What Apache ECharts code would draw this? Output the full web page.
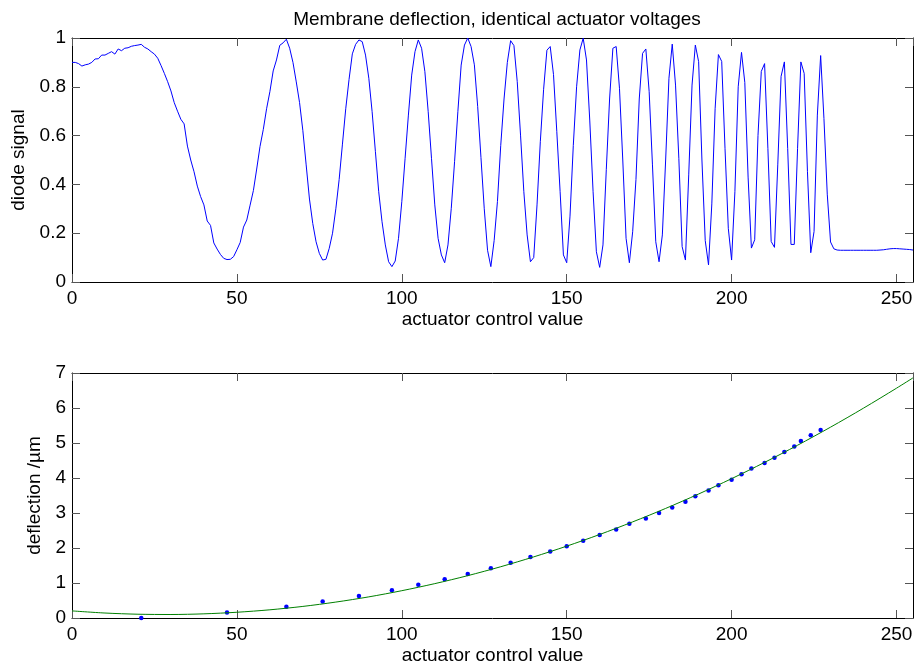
<!DOCTYPE html>
<html>
<head>
<meta charset="utf-8">
<script src="https://cdn.jsdelivr.net/npm/echarts@6/dist/echarts.min.js"></script>
<style>
html,body{margin:0;padding:0;background:#fff;}
#chart{width:917px;height:671px;}
</style>
</head>
<body>
<div id="chart"></div>
<script>
// Top panel: diode signal for actuator control values 0..255 (one sample per value)
const diodeSignal = [
0.90,0.90,0.895,0.885,0.89,0.893,0.90,0.914,0.915,0.93,
0.93,0.937,0.944,0.934,0.955,0.948,0.958,0.96,0.966,0.969,
0.971,0.974,0.962,0.955,0.944,0.934,0.917,0.887,0.855,0.821,
0.783,0.735,0.70,0.667,0.648,0.557,0.50,0.452,0.393,0.35,
0.316,0.25,0.232,0.16,0.135,0.113,0.097,0.092,0.093,0.104,
0.132,0.162,0.225,0.254,0.315,0.375,0.463,0.555,0.625,0.71,
0.78,0.865,0.91,0.97,0.98,0.995,0.958,0.90,0.82,0.735,
0.62,0.48,0.34,0.24,0.165,0.117,0.09,0.093,0.138,0.20,
0.30,0.42,0.565,0.71,0.83,0.935,0.974,0.992,0.985,0.93,
0.835,0.698,0.534,0.37,0.247,0.152,0.083,0.063,0.086,0.179,
0.329,0.507,0.684,0.848,0.944,0.992,0.958,0.862,0.698,0.507,
0.316,0.179,0.111,0.079,0.152,0.302,0.493,0.698,0.889,0.971,
1.0,0.965,0.89,0.72,0.51,0.30,0.13,0.063,0.17,0.33,
0.56,0.75,0.90,0.989,0.969,0.821,0.602,0.37,0.193,0.083,
0.10,0.316,0.575,0.79,0.95,0.965,0.85,0.616,0.37,0.111,
0.079,0.27,0.56,0.80,0.951,0.999,0.91,0.66,0.37,0.124,
0.06,0.152,0.46,0.75,0.958,0.965,0.794,0.50,0.179,0.079,
0.206,0.42,0.75,0.937,0.955,0.78,0.48,0.165,0.083,0.193,
0.50,0.835,0.975,0.807,0.507,0.145,0.09,0.439,0.807,0.971,
0.903,0.50,0.17,0.07,0.32,0.71,0.932,0.904,0.548,0.22,
0.09,0.37,0.80,0.941,0.818,0.43,0.139,0.173,0.60,0.863,
0.895,0.548,0.166,0.142,0.48,0.843,0.902,0.548,0.154,0.154,
0.548,0.902,0.855,0.452,0.12,0.207,0.684,0.928,0.67,0.36,
0.164,0.136,0.131,0.130,0.130,0.130,0.130,0.130,0.130,0.130,
0.130,0.130,0.130,0.130,0.130,0.131,0.132,0.134,0.136,0.137,
0.137,0.136,0.135,0.134,0.133,0.131
];

// Bottom panel: measured deflection at fringe extrema
const extremaControl = [21,47,65,76,87,97,105,113,120,127,133,139,145,150,155,160,165,169,174,178,182,186,189,193,196,200,203,206,210,213,216,219,221,224,227];
const extremaDeflection = [0,0.16,0.32,0.47,0.63,0.79,0.95,1.11,1.26,1.42,1.58,1.74,1.90,2.05,2.21,2.37,2.53,2.69,2.84,3.00,3.16,3.32,3.48,3.64,3.79,3.95,4.11,4.27,4.43,4.58,4.74,4.90,5.06,5.22,5.37];

// Bottom panel: fitted curve
const fitControl = [0,10,20,30,40,50,60,70,80,90,100,110,120,130,140,150,160,170,180,190,200,210,220,230,240,250,255];
const fitDeflection = [0.203,0.142,0.108,0.100,0.119,0.164,0.234,0.331,0.455,0.604,0.780,0.982,1.21,1.465,1.746,2.053,2.386,2.746,3.131,3.543,3.981,4.446,4.936,5.453,5.996,6.566,6.861];

const titleText = 'Membrane deflection, identical actuator voltages';
const xName = 'actuator control value';
const yNameTop = 'diode signal';
const yNameBottom = 'deflection /\u00b5m';

const FONT = "'Liberation Sans', Arial, Helvetica, sans-serif";
const FS = 19;

const chart = echarts.init(document.getElementById('chart'), null, {renderer: 'canvas'});

function xAx(gridIndex) {
  return {
    type: 'value', gridIndex: gridIndex, min: 0, max: 255, interval: 50,
    position: 'bottom',
    name: xName, nameLocation: 'middle', nameGap: 28,
    nameTextStyle: {color: '#000', fontSize: FS, fontFamily: FONT},
    axisLine: {show: true, onZero: false, lineStyle: {color: '#000', width: 1}},
    axisTick: {show: true, inside: true, length: 8, lineStyle: {color: '#555', width: 1}},
    axisLabel: {show: true, margin: 7, color: '#000', fontSize: FS, fontFamily: FONT, showMaxLabel: false},
    splitLine: {show: false}
  };
}
function xAxTop(gridIndex) {
  return {
    type: 'value', gridIndex: gridIndex, min: 0, max: 255, interval: 50,
    position: 'top',
    axisLine: {show: true, onZero: false, lineStyle: {color: '#000', width: 1}},
    axisTick: {show: true, inside: true, length: 8, lineStyle: {color: '#555', width: 1}},
    axisLabel: {show: false},
    splitLine: {show: false}
  };
}
function yAx(gridIndex, max, interval, name, gap) {
  return {
    type: 'value', gridIndex: gridIndex, min: 0, max: max, interval: interval,
    position: 'left',
    name: name, nameLocation: 'middle', nameGap: gap, nameRotate: 90,
    nameTextStyle: {color: '#000', fontSize: FS, fontFamily: FONT},
    axisLine: {show: true, onZero: false, lineStyle: {color: '#000', width: 1}},
    axisTick: {show: true, inside: true, length: 8, lineStyle: {color: '#555', width: 1}},
    axisLabel: {show: true, margin: 6, color: '#000', fontSize: FS, fontFamily: FONT},
    splitLine: {show: false}
  };
}
function yAxRight(gridIndex, max, interval) {
  return {
    type: 'value', gridIndex: gridIndex, min: 0, max: max, interval: interval,
    position: 'right',
    axisLine: {show: true, onZero: false, lineStyle: {color: '#000', width: 1}},
    axisTick: {show: true, inside: true, length: 8, lineStyle: {color: '#555', width: 1}},
    axisLabel: {show: false},
    splitLine: {show: false}
  };
}

const option = {
  backgroundColor: '#fff',
  animation: false,
  title: {
    text: titleText, left: 492, top: 5, textAlign: 'center',
    textStyle: {color: '#000', fontSize: FS, fontWeight: 'normal', fontFamily: FONT}
  },
  grid: [
    {left: 72, top: 38, width: 841, height: 244},
    {left: 72, top: 373, width: 841, height: 245}
  ],
  xAxis: [xAx(0), xAxTop(0), xAx(1), xAxTop(1)],
  yAxis: [
    yAx(0, 1, 0.2, yNameTop, 42), yAxRight(0, 1, 0.2),
    yAx(1, 7, 1, yNameBottom, 27), yAxRight(1, 7, 1)
  ],
  series: [
    {
      type: 'line', xAxisIndex: 0, yAxisIndex: 0,
      data: diodeSignal.map((v, i) => [i, v]),
      showSymbol: false, symbol: 'none',
      lineStyle: {color: '#0000ff', width: 1}, itemStyle: {color: '#0000ff'}
    },
    {
      type: 'line', xAxisIndex: 2, yAxisIndex: 2,
      data: fitControl.map((x, i) => [x, fitDeflection[i]]),
      showSymbol: false, symbol: 'none', smooth: 0.3,
      lineStyle: {color: '#008000', width: 1}, itemStyle: {color: '#008000'}
    },
    {
      type: 'scatter', xAxisIndex: 2, yAxisIndex: 2,
      data: extremaControl.map((x, i) => [x, extremaDeflection[i]]),
      symbol: 'circle', symbolSize: 4.5,
      itemStyle: {color: '#0000ff', opacity: 1}
    }
  ]
};
chart.setOption(option);
</script>
</body>
</html>
